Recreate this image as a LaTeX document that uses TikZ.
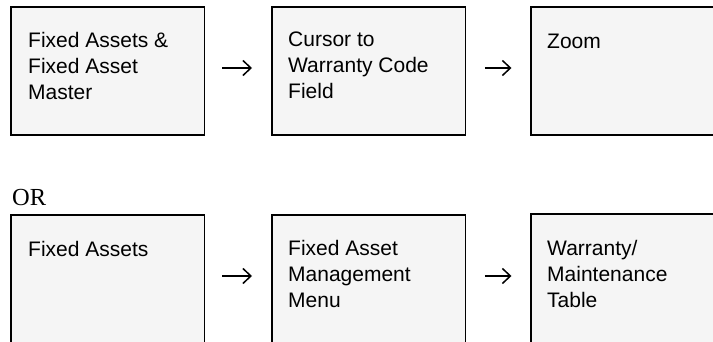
\documentclass[tikz,border=0pt]{standalone}
\usepackage{fontspec}
\setmainfont{Liberation Sans}
\newfontfamily\orfont{Liberation Serif}
\usetikzlibrary{arrows.meta,calc}
\definecolor{panelgray}{HTML}{F5F5F5}
\begin{document}
\begin{tikzpicture}[x=1pt,y=-1pt,
  panel/.style={rectangle, fill=panelgray, draw=none, inner sep=0pt,
    minimum width=193pt, minimum height=128pt, anchor=north west},
  tallpanel/.style={panel, minimum height=150pt},
  heavyedge/.style={line width=2pt, line cap=rect},
  lightedge/.style={line width=1.2pt, line cap=rect},
  lbl/.style={anchor=north west, inner sep=0pt, align=left,
    font=\fontsize{21}{26}\selectfont, execute at begin node={\rule{0pt}{16pt}}},
  flowarrow/.style={line width=1.5pt, -{Straight Barb[length=8pt,width=15pt]}}]
\useasboundingbox (0,0) rectangle (713,342);
\clip (0,0) rectangle (713,342);

% first route
\node[panel] (a1) at (11,7) {};
\node[panel] (a2) at (272,7) {};
\node[panel] (a3) at (531,7) {};
% second route
\node[tallpanel] (b1) at (11,215) {};
\node[tallpanel] (b2) at (272,215) {};
\node[tallpanel] (b3) at (531,214) {};

% box outlines: heavy top, left and bottom, light right side
\foreach \n in {a1,a2,a3,b1,b2,b3}{
  \draw[heavyedge] (\n.south west) -- (\n.north west) -- (\n.north east);
  \draw[heavyedge] (\n.south west) -- (\n.south east);
  \draw[lightedge] (\n.north east) -- (\n.south east);
}

% box labels
\node[lbl] (ta1) at ($(a1.north west)+(17,25)$) {Fixed Assets \&\\Fixed Asset\\Master};
\node[lbl] (ta2) at ($(a2.north west)+(16,25)$) {Cursor to\\Warranty Code\\Field};
\node[lbl] (ta3) at ($(a3.north west)+(16,25)$) {Zoom};
\node[lbl] (tb1) at ($(b1.north west)+(17,25)$) {Fixed Assets};
\node[lbl] (tb2) at ($(b2.north west)+(16,25)$) {Fixed Asset\\Management\\Menu};
\node[lbl] (tb3) at ($(b3.north west)+(16,26)$) {Warranty/\\Maintenance\\Table};

\node[anchor=base west, inner sep=0pt, font=\orfont\fontsize{24.5}{28}\selectfont]
  (or) at (12,206) {OR};

% arrows between steps
\draw[flowarrow, shorten <=18pt, shorten >=20pt]
  ([yshift=-61pt]a1.north east) -- ([yshift=-61pt]a2.north west);
\draw[flowarrow, shorten <=19.5pt, shorten >=19.5pt]
  ([yshift=-61pt]a2.north east) -- ([yshift=-61pt]a3.north west);
\draw[flowarrow, shorten <=18pt, shorten >=20pt]
  ([yshift=-61pt]b1.north east) -- ([yshift=-61pt]b2.north west);
\draw[flowarrow, shorten <=19.5pt, shorten >=19.5pt]
  ([yshift=-61pt]b2.north east) -- ([yshift=-62pt]b3.north west);
\end{tikzpicture}
\end{document}
